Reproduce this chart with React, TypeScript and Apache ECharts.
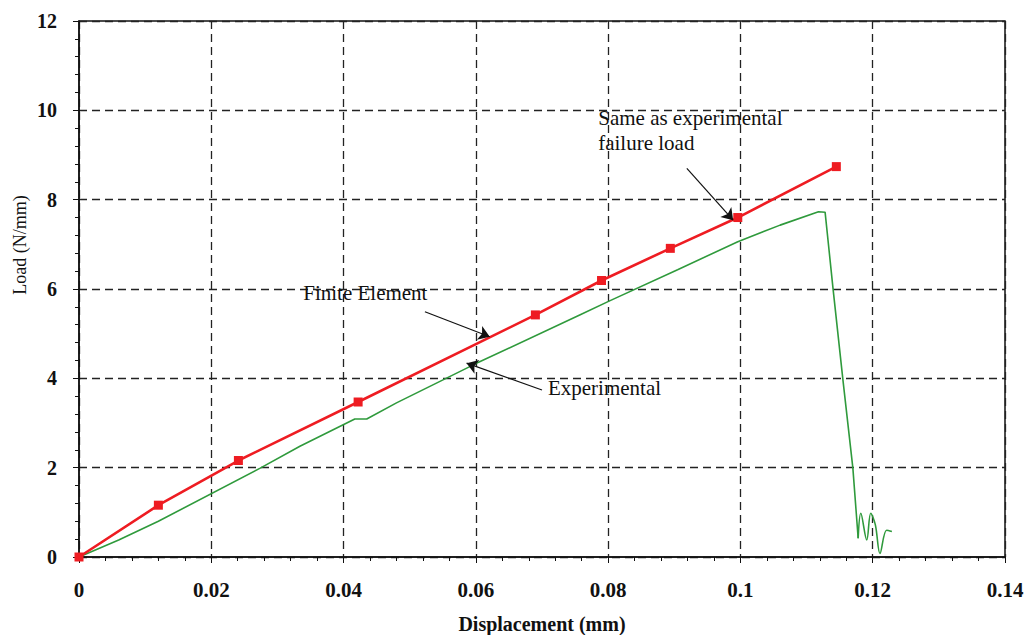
import React, { useEffect, useRef } from "react";
import * as echarts from "echarts";

// Finite Element (red, square markers)
const feX = [0, 0.012, 0.0241, 0.0422, 0.069, 0.079, 0.0894, 0.0996, 0.1145];
const feY = [0, 1.16, 2.16, 3.47, 5.42, 6.19, 6.91, 7.6, 8.74];

// Experimental (green) – loading branch and sudden drop
const expX = [0, 0.006, 0.012, 0.0274, 0.0334, 0.0417, 0.0435, 0.048, 0.06, 0.0757, 0.0803, 0.0905, 0.0996, 0.106, 0.1118, 0.1128, 0.114, 0.1155, 0.117, 0.1178];
const expY = [0, 0.38, 0.8, 1.99, 2.48, 3.09, 3.09, 3.45, 4.33, 5.42, 5.74, 6.43, 7.06, 7.43, 7.73, 7.72, 6.01, 3.96, 1.99, 0.42];

// Experimental – post-failure oscillation
const oscX = [0.1178, 0.1182, 0.1191, 0.1197, 0.1204, 0.1211, 0.1221, 0.1229];
const oscY = [0.42, 0.98, 0.38, 0.98, 0.72, 0.08, 0.6, 0.57];

const xMin = 0, xMax = 0.14, xStep = 0.02;
const yMin = 0, yMax = 12, yStep = 2;

const xTitle = "Displacement (mm)";
const yTitle = "Load (N/mm)";

// annotation texts (data coords of left/middle anchor)
const noteTexts = [
  { text: "Same as experimental", x: 0.0785, y: 9.83 },
  { text: "failure load", x: 0.0785, y: 9.27 },
  { text: "Finite Element", x: 0.0339, y: 5.91 },
  { text: "Experimental", x: 0.0709, y: 3.78 },
];

// annotation arrows: [fromX, fromY, toX, toY]
const noteArrows = [
  [0.0919, 8.7, 0.0989, 7.54],
  [0.0523, 5.49, 0.0621, 4.93],
  [0.07, 3.74, 0.0586, 4.34],
];

const FONT = "Liberation Serif";
const INK = "#111";

export default function App() {
  const ref = useRef<HTMLDivElement>(null);
  useEffect(() => {
    if (!ref.current) return;
    const chart = echarts.init(ref.current, null, { renderer: "svg" });
    const pair = (xs: number[], ys: number[]) => xs.map((x, i) => [x, ys[i]]);
    const grid = { left: 79, top: 21, right: 22, bottom: 78, show: true, borderColor: INK, borderWidth: 1.5, backgroundColor: "transparent" };
    const split = { show: true, lineStyle: { type: [8, 5] as any, color: "#222", width: 1.3 } };
    chart.setOption({
      animation: false,
      backgroundColor: "#fff",
      textStyle: { fontFamily: FONT },
      grid,
      xAxis: {
        type: "value", min: xMin, max: xMax, interval: xStep,
        axisLine: { show: true, lineStyle: { color: INK, width: 1.5 } },
        axisTick: { show: true, length: 6, lineStyle: { color: INK } },
        minorTick: { show: true, splitNumber: 5, length: 4, lineStyle: { color: INK } },
        splitLine: split,
        axisLabel: { color: INK, fontFamily: FONT, fontSize: 21, margin: 22, fontWeight: "bold" },
      },
      yAxis: {
        type: "value", min: yMin, max: yMax, interval: yStep,
        axisLine: { show: true, lineStyle: { color: INK, width: 1.5 } },
        axisTick: { show: true, length: 6, lineStyle: { color: INK } },
        minorTick: { show: true, splitNumber: 5, length: 4, lineStyle: { color: INK } },
        splitLine: split,
        axisLabel: { color: INK, fontFamily: FONT, fontSize: 20, margin: 22, fontWeight: "bold" },
      },
      series: [
        {
          type: "line", name: "Experimental", data: pair(expX, expY), showSymbol: false, symbol: "none",
          lineStyle: { color: "#2f9a3c", width: 1.6 }, z: 3,
        },
        {
          type: "line", name: "Experimental osc", data: pair(oscX, oscY), showSymbol: false, symbol: "none", smooth: 0.35,
          lineStyle: { color: "#2f9a3c", width: 1.6 }, z: 3,
        },
        {
          type: "line", name: "Finite Element", data: pair(feX, feY), symbol: "rect", symbolSize: 9,
          itemStyle: { color: "#ee1c22" }, lineStyle: { color: "#ee1c22", width: 2.6 }, z: 4,
        },
        {
          type: "line", name: "arrows", data: [], z: 5,
          markLine: {
            silent: true, symbol: ["none", "arrow"], symbolSize: 11,
            label: { show: false },
            lineStyle: { color: INK, width: 1.2, type: "solid" },
            itemStyle: { color: INK },
            data: noteArrows.map((a) => [{ coord: [a[0], a[1]] }, { coord: [a[2], a[3]] }]),
          },
        },
      ],
    });
    const texts = noteTexts.map((n) => {
      const p = chart.convertToPixel({ gridIndex: 0 }, [n.x, n.y]) as number[];
      return {
        type: "text", x: p[0], y: p[1], z: 10,
        style: { text: n.text, fill: INK, fontFamily: FONT, fontSize: 21, align: "left", verticalAlign: "middle" },
      };
    });
    chart.setOption({
      graphic: [
        ...texts,
        {
          type: "text", x: 542, y: 624, z: 10,
          style: { text: xTitle, fill: INK, fontFamily: FONT, fontSize: 20, fontWeight: "bold", align: "center", verticalAlign: "middle" },
        },
        {
          type: "text", x: 20, y: 245, rotation: Math.PI / 2, z: 10,
          style: { text: yTitle, fill: INK, fontFamily: FONT, fontSize: 18, align: "center", verticalAlign: "middle" },
        },
      ],
    });
    return () => chart.dispose();
  }, []);
  return <div ref={ref} style={{ position: "fixed", left: 0, top: 0, width: 1027, height: 635, background: "#fff" }} />;
}
